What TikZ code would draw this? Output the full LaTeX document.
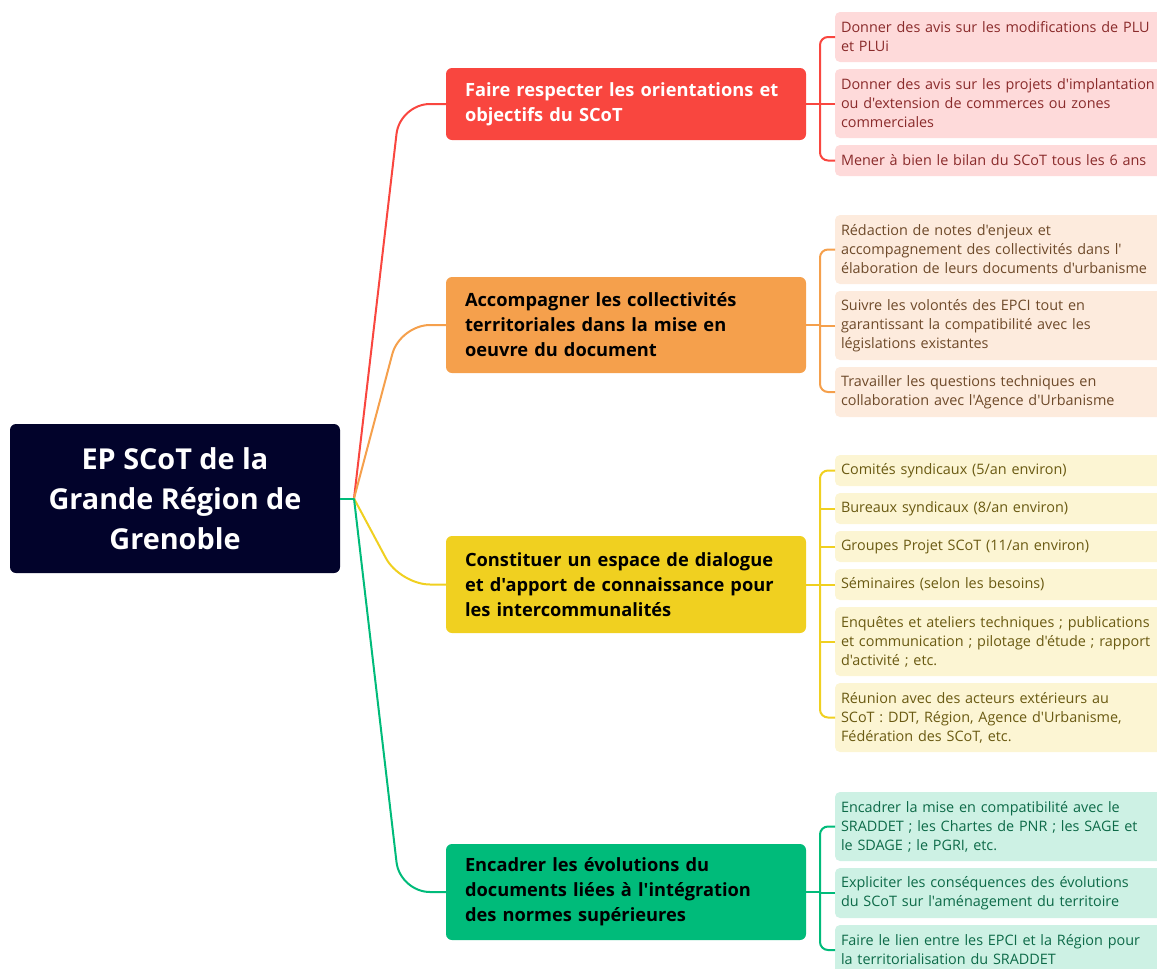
\documentclass[tikz,border=0pt]{standalone}
\usepackage{fontspec}
\setmainfont{Open Sans}[Ligatures=TeXOff]
\usetikzlibrary{calc,positioning}

\newdimen\px
\px=0.75pt

\definecolor{rootfill}{HTML}{02032B}
\definecolor{redmain}{HTML}{F9463F}
\definecolor{orangemain}{HTML}{F5A04C}
\definecolor{yellowmain}{HTML}{F0D020}
\definecolor{greenmain}{HTML}{00BB7A}
\definecolor{redsub}{HTML}{FEDADA}
\definecolor{orangesub}{HTML}{FDEBDD}
\definecolor{yellowsub}{HTML}{FCF5D3}
\definecolor{greensub}{HTML}{CDF1E4}
\definecolor{redtext}{HTML}{8A2B2B}
\definecolor{orangetext}{HTML}{6E4A2A}
\definecolor{yellowtext}{HTML}{6A5A12}
\definecolor{greentext}{HTML}{0D6A48}

\begin{document}
\begin{tikzpicture}[x=0.75pt,y=-0.75pt]

\tikzstyle{mainbox}=[rounded corners=6\px,outer sep=0pt,inner xsep=19\px,inner ysep=0pt,text width=322\px,minimum width=360\px,align=left,anchor=north west,font=\bfseries\fontsize{13.7}{18.75}\selectfont]
\tikzstyle{subbox}=[rounded corners=5\px,outer sep=0pt,inner xsep=6\px,inner ysep=0pt,text width=330\px,align=left,anchor=north west,font=\fontsize{10.8}{14.25}\selectfont]
\tikzstyle{link}=[line width=1.5pt]

\useasboundingbox (0,0) rectangle (1157,968);
\clip (0,0) rectangle (1157,968);

% Racine

\node (root) [fill=rootfill,rounded corners=6\px,outer sep=0pt,minimum width=330\px,minimum height=149\px,anchor=north west,text=white,align=center,font=\bfseries\fontsize{21.6}{30}\selectfont] at (10,424) {EP SCoT de la\\Grande Région de\\Grenoble};

\coordinate (hub) at ([xshift=14\px]root.east);

% Branches principales

\node (main1) [mainbox,fill=redmain,text=white,minimum height=72\px] at (446,68) {Faire respecter les orientations et\\objectifs du SCoT};
\node (main2) [mainbox,fill=orangemain,minimum height=96\px] at (446,277) {Accompagner les collectivités\\territoriales dans la mise en\\oeuvre du document};
\node (main3) [mainbox,fill=yellowmain,minimum height=97\px] at (446,536) {Constituer un espace de dialogue\\et d'apport de connaissance pour\\les intercommunalités};
\node (main4) [mainbox,fill=greenmain,minimum height=96\px] at (446,844) {Encadrer les évolutions du\\documents liées à l'intégration\\des normes supérieures};

% Sous-branches : orientations

\node (sub11) [subbox,fill=redsub,text=redtext,minimum height=50\px] at (835,12) {Donner des avis sur les modifications de PLU\\et PLUi};
\node (sub12) [subbox,fill=redsub,text=redtext,minimum height=69\px,below=7\px of sub11] {Donner des avis sur les projets d'implantation\\ou d'extension de commerces ou zones\\commerciales};
\node (sub13) [subbox,fill=redsub,text=redtext,minimum height=31\px,below=7\px of sub12] {Mener à bien le bilan du SCoT tous les 6 ans};

% Sous-branches : accompagnement

\node (sub21) [subbox,fill=orangesub,text=orangetext,minimum height=69\px] at (835,215) {Rédaction de notes d'enjeux et\\accompagnement des collectivités dans l'\\élaboration de leurs documents d'urbanisme};
\node (sub22) [subbox,fill=orangesub,text=orangetext,minimum height=69\px,below=7\px of sub21] {Suivre les volontés des EPCI tout en\\garantissant la compatibilité avec les\\législations existantes};
\node (sub23) [subbox,fill=orangesub,text=orangetext,minimum height=50\px,below=7\px of sub22] {Travailler les questions techniques en\\collaboration avec l'Agence d'Urbanisme};

% Sous-branches : dialogue

\node (sub31) [subbox,fill=yellowsub,text=yellowtext,minimum height=31\px] at (835,455) {Comités syndicaux (5/an environ)};
\node (sub32) [subbox,fill=yellowsub,text=yellowtext,minimum height=31\px,below=7\px of sub31] {Bureaux syndicaux (8/an environ)};
\node (sub33) [subbox,fill=yellowsub,text=yellowtext,minimum height=31\px,below=7\px of sub32] {Groupes Projet SCoT (11/an environ)};
\node (sub34) [subbox,fill=yellowsub,text=yellowtext,minimum height=31\px,below=7\px of sub33] {Séminaires (selon les besoins)};
\node (sub35) [subbox,fill=yellowsub,text=yellowtext,minimum height=69\px,below=7\px of sub34] {Enquêtes et ateliers techniques ; publications\\et communication ; pilotage d'étude ; rapport\\d'activité ; etc.};
\node (sub36) [subbox,fill=yellowsub,text=yellowtext,minimum height=69\px,below=7\px of sub35] {Réunion avec des acteurs extérieurs au\\SCoT : DDT, Région, Agence d'Urbanisme,\\Fédération des SCoT, etc.};

% Sous-branches : normes

\node (sub41) [subbox,fill=greensub,text=greentext,minimum height=69\px] at (835,792) {Encadrer la mise en compatibilité avec le\\SRADDET ; les Chartes de PNR ; les SAGE et\\le SDAGE ; le PGRI, etc.};
\node (sub42) [subbox,fill=greensub,text=greentext,minimum height=50\px,below=7\px of sub41] {Expliciter les conséquences des évolutions\\du SCoT sur l'aménagement du territoire};
\node (sub43) [subbox,fill=greensub,text=greentext,minimum height=50\px,below=7\px of sub42] {Faire le lien entre les EPCI et la Région pour\\la territorialisation du SRADDET};

% Liens racine -> branches

\draw [link,redmain] (root.east) -- (hub);
\draw [link,redmain,rounded corners=30\px] (hub) -- ($(hub |- main1.west)+(46,0)$) -- (main1.west);

\draw [link,orangemain] (root.east) -- (hub);
\draw [link,orangemain,rounded corners=30\px] (hub) -- ($(hub |- main2.west)+(46,0)$) -- (main2.west);

\draw [link,yellowmain] (root.east) -- (hub);
\draw [link,yellowmain,rounded corners=30\px] (hub) -- ($(hub |- main3.west)+(46,0)$) -- (main3.west);

\draw [link,greenmain] (root.east) -- (hub);
\draw [link,greenmain,rounded corners=30\px] (hub) -- ($(hub |- main4.west)+(46,0)$) -- (main4.west);

% Liens branches -> sous-branches

\coordinate (bar1) at ([xshift=-15\px]sub11.west);
\draw [link,redmain] (main1.east) -- (main1.east -| bar1);
\draw [link,redmain,rounded corners=8\px] (sub11.west) -- (bar1) |- (sub13.west);
\draw [link,redmain] (sub12.west) -- ++(-15,0);

\coordinate (bar2) at ([xshift=-15\px]sub21.west);
\draw [link,orangemain] (main2.east) -- (main2.east -| bar2);
\draw [link,orangemain,rounded corners=8\px] (sub21.west) -- (bar2) |- (sub23.west);
\draw [link,orangemain] (sub22.west) -- ++(-15,0);

\coordinate (bar3) at ([xshift=-15\px]sub31.west);
\draw [link,yellowmain] (main3.east) -- (main3.east -| bar3);
\draw [link,yellowmain,rounded corners=8\px] (sub31.west) -- (bar3) |- (sub36.west);
\draw [link,yellowmain] (sub32.west) -- ++(-15,0);
\draw [link,yellowmain] (sub33.west) -- ++(-15,0);
\draw [link,yellowmain] (sub34.west) -- ++(-15,0);
\draw [link,yellowmain] (sub35.west) -- ++(-15,0);

\coordinate (bar4) at ([xshift=-15\px]sub41.west);
\draw [link,greenmain] (main4.east) -- (main4.east -| bar4);
\draw [link,greenmain,rounded corners=8\px] (sub41.west) -- (bar4) |- (sub43.west);
\draw [link,greenmain] (sub42.west) -- ++(-15,0);

\end{tikzpicture}
\end{document}
